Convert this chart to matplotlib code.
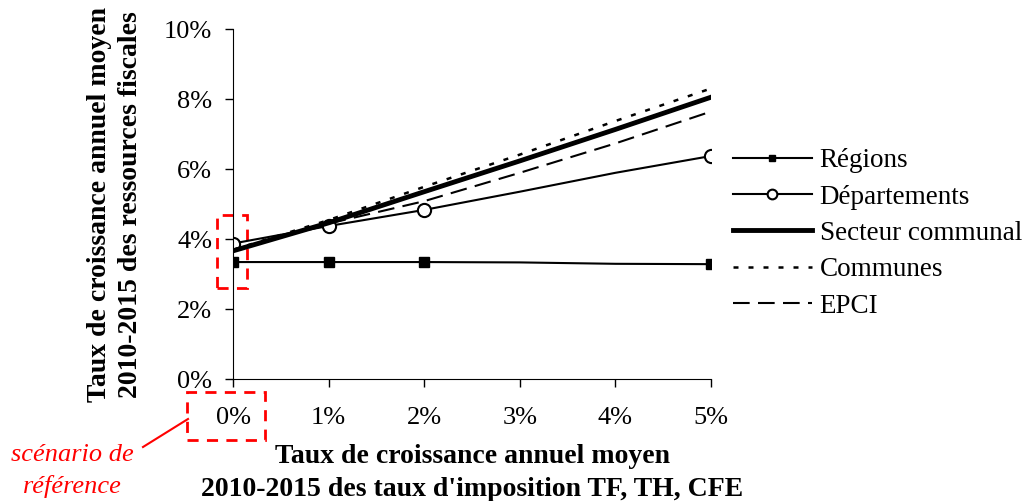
import matplotlib
matplotlib.use("Agg")
import matplotlib.pyplot as plt
from matplotlib.patches import Rectangle

plt.rcParams["font.family"] = ["Liberation Serif", "DejaVu Serif"]

# Data, in %
x_rates = [0, 1, 2, 3, 4, 5]
regions = [3.35, 3.35, 3.35, 3.34, 3.30, 3.29]
departements = [3.88, 4.38, 4.84, 5.36, 5.90, 6.38]
secteur_communal = [3.67, 4.47, 5.36, 6.24, 7.14, 8.06]
communes = [3.70, 4.55, 5.50, 6.42, 7.38, 8.31]
epci = [3.70, 4.45, 5.09, 5.90, 6.74, 7.65]
marked = [0, 1, 2, 5]

xtick_labels = ["0%", "1%", "2%", "3%", "4%", "5%"]
ytick_values = [0, 2, 4, 6, 8, 10]

fig = plt.figure(figsize=(10.26, 5.01), dpi=100)
ax = fig.add_axes([0.2271, 0.2429, 0.4659, 0.6986])

ax.plot(x_rates, regions, color="black", lw=1.5, marker="s", ms=7,
        markevery=marked, label="Régions")
ax.plot(x_rates, departements, color="black", lw=1.5, marker="o", ms=9.5,
        mfc="white", mew=1.5, markevery=marked, label="Départements")
ax.plot(x_rates, secteur_communal, color="black", lw=3.5, label="Secteur communal")
ax.plot(x_rates, communes, color="black", lw=1.8, ls=(0, (2, 4)), label="Communes")
ax.plot(x_rates, epci, color="black", lw=1.5, ls=(0, (8, 4)), label="EPCI")

ax.set_xlim(0, 5)
ax.set_ylim(0, 10)
ax.set_xticks(x_rates)
ax.set_xticklabels(xtick_labels)
ax.set_yticks(ytick_values)
ax.set_yticklabels([f"{v}%" for v in ytick_values])
ax.tick_params(axis="both", direction="out", length=6, width=1, labelsize=19)
ax.tick_params(axis="x", pad=14)
ax.tick_params(axis="y", pad=9)
for side in ["top", "right"]:
    ax.spines[side].set_visible(False)

ax.set_xlabel("Taux de croissance annuel moyen\n2010-2015 des taux d'imposition TF, TH, CFE",
              fontsize=20, fontweight="bold", linespacing=1.4, labelpad=11)
ax.set_ylabel("Taux de croissance annuel moyen\n2010-2015 des ressources fiscales",
              fontsize=20, fontweight="bold", linespacing=1.3, labelpad=15)

leg = ax.legend(loc="center left", bbox_to_anchor=(0.7144, 0.534),
                bbox_transform=fig.transFigure, frameon=False, fontsize=19.5,
                handlelength=2.9, handletextpad=0.3, labelspacing=0.42,
                borderpad=0, borderaxespad=0, numpoints=1)
leg.legend_handles[0].set_markersize(5)
leg.legend_handles[1].set_markersize(7)

# Red "reference scenario" annotations
ax.add_patch(Rectangle((-0.17, 2.6), 0.32, 2.1, fill=False, ec="red",
                       lw=2, ls=(0, (4, 3)), clip_on=False))
fig.add_artist(Rectangle((187 / 1026, 1 - 440 / 501), 78 / 1026, 48 / 501,
                         fill=False, ec="red", lw=2, ls=(0, (4, 3)),
                         transform=fig.transFigure))
fig.add_artist(plt.Line2D([143 / 1026, 188 / 1026], [1 - 447 / 501, 1 - 419 / 501],
                          color="red", lw=1.5, transform=fig.transFigure))
fig.text(72 / 1026, 1 - 471 / 501, "scénario de\nréférence", color="red",
         fontsize=19, style="italic", ha="center", va="center", linespacing=1.45)

fig.savefig("out.png", dpi=100)
